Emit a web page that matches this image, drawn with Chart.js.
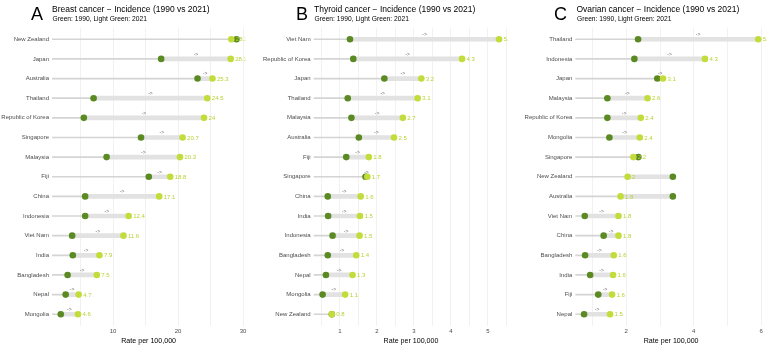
<!DOCTYPE html>
<html>
<head>
<meta charset="utf-8">
<script src="https://cdn.jsdelivr.net/npm/chart.js@4.4.1/dist/chart.umd.min.js"></script>
<style>
  body { margin: 0; background: #fff; font-family: "Liberation Sans", Arial, sans-serif; }
  #wrap { position: relative; width: 771px; height: 345px; overflow: hidden; }
  canvas { position: absolute; top: 0; }
  .letter { position: absolute; font-size: 18px; line-height: 18px; color: #000; }
  .title { position: absolute; font-size: 8.5px; line-height: 8.5px; color: #000; white-space: nowrap; }
  .sub { position: absolute; font-size: 6.7px; line-height: 6.7px; color: #000; white-space: nowrap; }
</style>
</head>
<body>
<div id="wrap">
  <canvas id="chart-a" width="257" height="345" style="left:0px"></canvas>
  <canvas id="chart-b" width="257" height="345" style="left:257px"></canvas>
  <canvas id="chart-c" width="257" height="345" style="left:514px"></canvas>

  <div class="letter" style="left:31px; top:4.8px">A</div>
  <div class="title" style="left:52px; top:5.3px">Breast cancer − Incidence (1990 vs 2021)</div>
  <div class="sub" style="left:52.5px; top:16.3px">Green: 1990, Light Green: 2021</div>

  <div class="letter" style="left:296px; top:4.8px">B</div>
  <div class="title" style="left:314px; top:5.3px">Thyroid cancer − Incidence (1990 vs 2021)</div>
  <div class="sub" style="left:314.5px; top:16.3px">Green: 1990, Light Green: 2021</div>

  <div class="letter" style="left:554px; top:4.8px">C</div>
  <div class="title" style="left:576.5px; top:5.3px">Ovarian cancer − Incidence (1990 vs 2021)</div>
  <div class="sub" style="left:577px; top:16.3px">Green: 1990, Light Green: 2021</div>
</div>

<script>
// --- data ---
const breastCountries = ['New Zealand', 'Japan', 'Australia', 'Thailand', 'Republic of Korea', 'Singapore', 'Malaysia', 'Fiji', 'China', 'Indonesia', 'Viet Nam', 'India', 'Bangladesh', 'Nepal', 'Mongolia']
const breast1990 = [29.0, 17.4, 23.0, 7.0, 5.5, 14.3, 9.0, 15.5, 5.7, 5.7, 3.7, 3.8, 3.0, 2.7, 1.95]
const breast2021 = [28.2, 28.1, 25.3, 24.5, 24.0, 20.7, 20.3, 18.8, 17.1, 12.4, 11.6, 7.9, 7.5, 4.7, 4.6]
const breastGrid = [5, 10, 15, 20, 25, 30]
const breastTicks = [10, 20, 30]

const thyroidCountries = ['Viet Nam', 'Republic of Korea', 'Japan', 'Thailand', 'Malaysia', 'Australia', 'Fiji', 'Singapore', 'China', 'India', 'Indonesia', 'Bangladesh', 'Nepal', 'Mongolia', 'New Zealand']
const thyroid1990 = [1.27, 1.36, 2.2, 1.21, 1.31, 1.51, 1.17, 1.69, 0.67, 0.68, 0.80, 0.67, 0.62, 0.53, 0.78]
const thyroid2021 = [5.3, 4.3, 3.2, 3.1, 2.7, 2.46, 1.78, 1.74, 1.56, 1.54, 1.53, 1.44, 1.34, 1.14, 0.78]
const thyroidGrid = [0.5, 1, 1.5, 2, 2.5, 3, 3.5, 4, 4.5, 5, 5.5]
const thyroidTicks = [1, 2, 3, 4, 5]

const ovarianCountries = ['Thailand', 'Indonesia', 'Japan', 'Malaysia', 'Republic of Korea', 'Mongolia', 'Singapore', 'New Zealand', 'Australia', 'Viet Nam', 'China', 'Bangladesh', 'India', 'Fiji', 'Nepal']
const ovarian1990 = [2.35, 2.24, 2.92, 1.44, 1.44, 1.5, 2.36, 3.38, 3.38, 0.77, 1.33, 0.78, 0.93, 1.17, 0.75]
const ovarian2021 = [5.91, 4.33, 3.09, 2.63, 2.43, 2.4, 2.21, 2.04, 1.83, 1.77, 1.77, 1.63, 1.61, 1.58, 1.52]
const ovarianGrid = [1, 2, 3, 4, 5, 6]
const ovarianTicks = [2, 4, 6]

const DARK = '#5b8a22'
const LIGHT = '#c3dc3b'
const LABEL = '#b8d236'
const FONT = '"Liberation Sans", Arial, sans-serif'

// value labels + little "->" arrows, placed through the scales
const valueLabels = {
    id: 'valueLabels',
    afterDatasetsDraw(chart, args, opts) {
        const { ctx, chartArea, scales } = chart
        ctx.save()
        ctx.beginPath()
        ctx.rect(chartArea.left, chartArea.top, chartArea.right - chartArea.left, chartArea.bottom - chartArea.top)
        ctx.clip()
        ctx.textBaseline = 'middle'
        for (let i = 0; i < opts.v2021.length; i++) {
            const a = opts.v1990[i], b = opts.v2021[i]
            const py = scales.y.getPixelForValue(i)
            if (b > a) {
                ctx.font = '5px ' + FONT
                ctx.fillStyle = '#666'
                ctx.textAlign = 'center'
                ctx.fillText('->', scales.x.getPixelForValue((a + b) / 2), py - 4.5)
            }
            ctx.font = '6px ' + FONT
            ctx.fillStyle = LABEL
            ctx.textAlign = 'left'
            ctx.fillText(String(Math.round(b * 10) / 10), scales.x.getPixelForValue(b) + 4.5, py + 0.5)
        }
        ctx.restore()
    }
}

function drawPanel(canvasId, countries, v1990, v2021, xMin, xMax, grid, ticks, plotLeft, plotRight) {
    const lines = countries.map((c, i) => ({ x: [xMin - 10, Math.min(v1990[i], v2021[i])], y: i }))
    const bands = countries.map((c, i) => ({ x: [Math.min(v1990[i], v2021[i]), Math.max(v1990[i], v2021[i])], y: i }))
    const old = countries.map((c, i) => ({ x: v1990[i], y: i }))
    const now = countries.map((c, i) => ({ x: v2021[i], y: i }))

    return new Chart(document.getElementById(canvasId).getContext('2d'), {
        type: 'bar',
        data: {
            datasets: [
                { type: 'bar', indexAxis: 'y', grouped: false, data: lines, barThickness: 1, backgroundColor: '#d4d4d4', borderWidth: 0, order: 5 },
                { type: 'bar', indexAxis: 'y', grouped: false, data: bands, barThickness: 4, backgroundColor: '#e2e2e2', borderWidth: 0, order: 4 },
                { type: 'scatter', data: old, pointRadius: 3.3, backgroundColor: DARK, borderWidth: 0, order: 2 },
                { type: 'scatter', data: now, pointRadius: 3.3, backgroundColor: LIGHT, borderWidth: 0, order: 1 }
            ]
        },
        options: {
            responsive: false,
            animation: false,
            events: [],
            indexAxis: 'y',
            layout: { padding: { top: 27.5, right: 257 - plotRight, left: 0, bottom: 0 } },
            plugins: {
                legend: { display: false },
                tooltip: { enabled: false },
                valueLabels: { v1990: v1990, v2021: v2021 }
            },
            scales: {
                x: {
                    type: 'linear',
                    bounds: 'data',
                    offset: false,
                    min: xMin,
                    max: xMax,
                    afterBuildTicks: s => { s.ticks = grid.map(v => ({ value: v })) },
                    afterFit: s => { s.height = 19 },
                    ticks: {
                        autoSkip: false,
                        maxRotation: 0,
                        padding: 2,
                        color: '#4d4d4d',
                        font: { size: 6, family: FONT },
                        callback: v => ticks.includes(v) ? String(v) : ''
                    },
                    grid: { color: '#ebebeb', lineWidth: 0.7, drawTicks: false, offset: false },
                    border: { display: false },
                    title: { display: true, text: 'Rate per 100,000', color: '#000', font: { size: 7.1, family: FONT }, padding: 0 }
                },
                y: {
                    type: 'linear',
                    bounds: 'data',
                    reverse: true,
                    offset: false,
                    min: -0.6,
                    max: countries.length - 1 + 0.6,
                    afterBuildTicks: s => { s.ticks = countries.map((c, i) => ({ value: i })) },
                    afterFit: s => { s.width = plotLeft },
                    ticks: {
                        autoSkip: false,
                        padding: 3,
                        color: '#4d4d4d',
                        font: { size: 6, family: FONT },
                        callback: v => countries[v]
                    },
                    grid: { display: false, drawTicks: false, offset: false },
                    border: { display: false }
                }
            }
        },
        plugins: [valueLabels]
    })
}

drawPanel('chart-a', breastCountries, breast1990, breast2021, 0.6, 30.35, breastGrid, breastTicks, 52, 245.3)
drawPanel('chart-b', thyroidCountries, thyroid1990, thyroid2021, 0.29, 5.55, thyroidGrid, thyroidTicks, 56.7, 251.3)
drawPanel('chart-c', ovarianCountries, ovarian1990, ovarian2021, 0.49, 6.17, ovarianGrid, ovarianTicks, 61.3, 255.5)
</script>
</body>
</html>
